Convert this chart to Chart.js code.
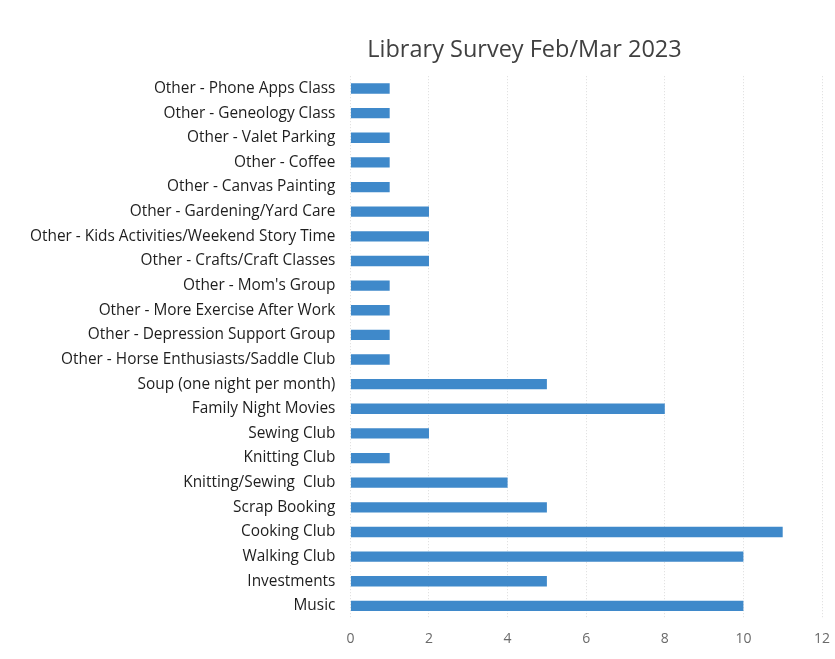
<!DOCTYPE html>
<html>
<head>
<meta charset="utf-8">
<script src="https://cdn.jsdelivr.net/npm/chart.js@4.4.0/dist/chart.umd.min.js"></script>
<style>
  html, body { margin: 0; padding: 0; background: #fff; }
  #wrap { width: 835px; height: 659px; }
</style>
</head>
<body>
<div id="wrap"><canvas id="myChart"></canvas></div>
<script>
// survey answers, top row first
var categories = [
  "Other - Phone Apps Class",
  "Other - Geneology Class",
  "Other - Valet Parking",
  "Other - Coffee",
  "Other - Canvas Painting",
  "Other - Gardening/Yard Care",
  "Other - Kids Activities/Weekend Story Time",
  "Other - Crafts/Craft Classes",
  "Other - Mom's Group",
  "Other - More Exercise After Work",
  "Other - Depression Support Group",
  "Other - Horse Enthusiasts/Saddle Club",
  "Soup (one night per month)",
  "Family Night Movies",
  "Sewing Club",
  "Knitting Club",
  "Knitting/Sewing  Club",
  "Scrap Booking",
  "Cooking Club",
  "Walking Club",
  "Investments",
  "Music"
];
var votes = [1, 1, 1, 1, 1, 2, 2, 2, 1, 1, 1, 1, 5, 8, 2, 1, 4, 5, 11, 10, 5, 10];
var xTicks = [0, 2, 4, 6, 8, 10, 12];

var titleText = "Library Survey Feb/Mar 2023";

// excel centres the title over the whole chart, not the canvas
var shiftTitle = {
  id: 'shiftTitle',
  afterLayout: function(chart) {
    if (chart.titleBlock) {
      chart.titleBlock.left = 214;
      chart.titleBlock.right = 835;
    }
  }
};

var ctx = document.getElementById("myChart");
var myChart = new Chart(ctx, {
  type: 'bar',
  data: {
    labels: categories,
    datasets: [{
      label: 'Votes',
      data: votes,
      backgroundColor: '#3f89ca',
      borderWidth: 0,
      categoryPercentage: 1,
      barPercentage: 0.42
    }]
  },
  options: {
    indexAxis: 'y',
    responsive: true,
    maintainAspectRatio: false,
    animation: false,
    layout: { padding: { top: 36, right: 13, left: 15, bottom: 0 } },
    plugins: {
      legend: { display: false },
      tooltip: { enabled: false },
      title: {
        display: true,
        text: titleText,
        color: '#404040',
        font: { family: 'Open Sans', size: 23.5, weight: 'normal' },
        padding: { top: 0, bottom: 12 }
      }
    },
    scales: {
      x: {
        min: 0,
        max: 12,
        afterBuildTicks: function(axis) {
          axis.ticks = xTicks.map(function(v) { return { value: v }; });
        },
        // let the "12" label hang into the right padding
        afterFit: function(axis) {
          axis.paddingRight = 0;
        },
        grid: {
          color: '#dcdcdc',
          lineWidth: 1,
          drawTicks: false
        },
        border: { display: false, dash: [1, 2] },
        ticks: {
          color: '#6a6a6a',
          padding: 12,
          font: { family: 'Open Sans', size: 14 }
        }
      },
      y: {
        grid: { display: false, drawTicks: false },
        border: { display: false },
        ticks: {
          color: '#1e1e1e',
          padding: 15,
          autoSkip: false,
          font: { family: 'Open Sans', size: 15.4 }
        }
      }
    }
  },
  plugins: [shiftTitle]
});
</script>
</body>
</html>
